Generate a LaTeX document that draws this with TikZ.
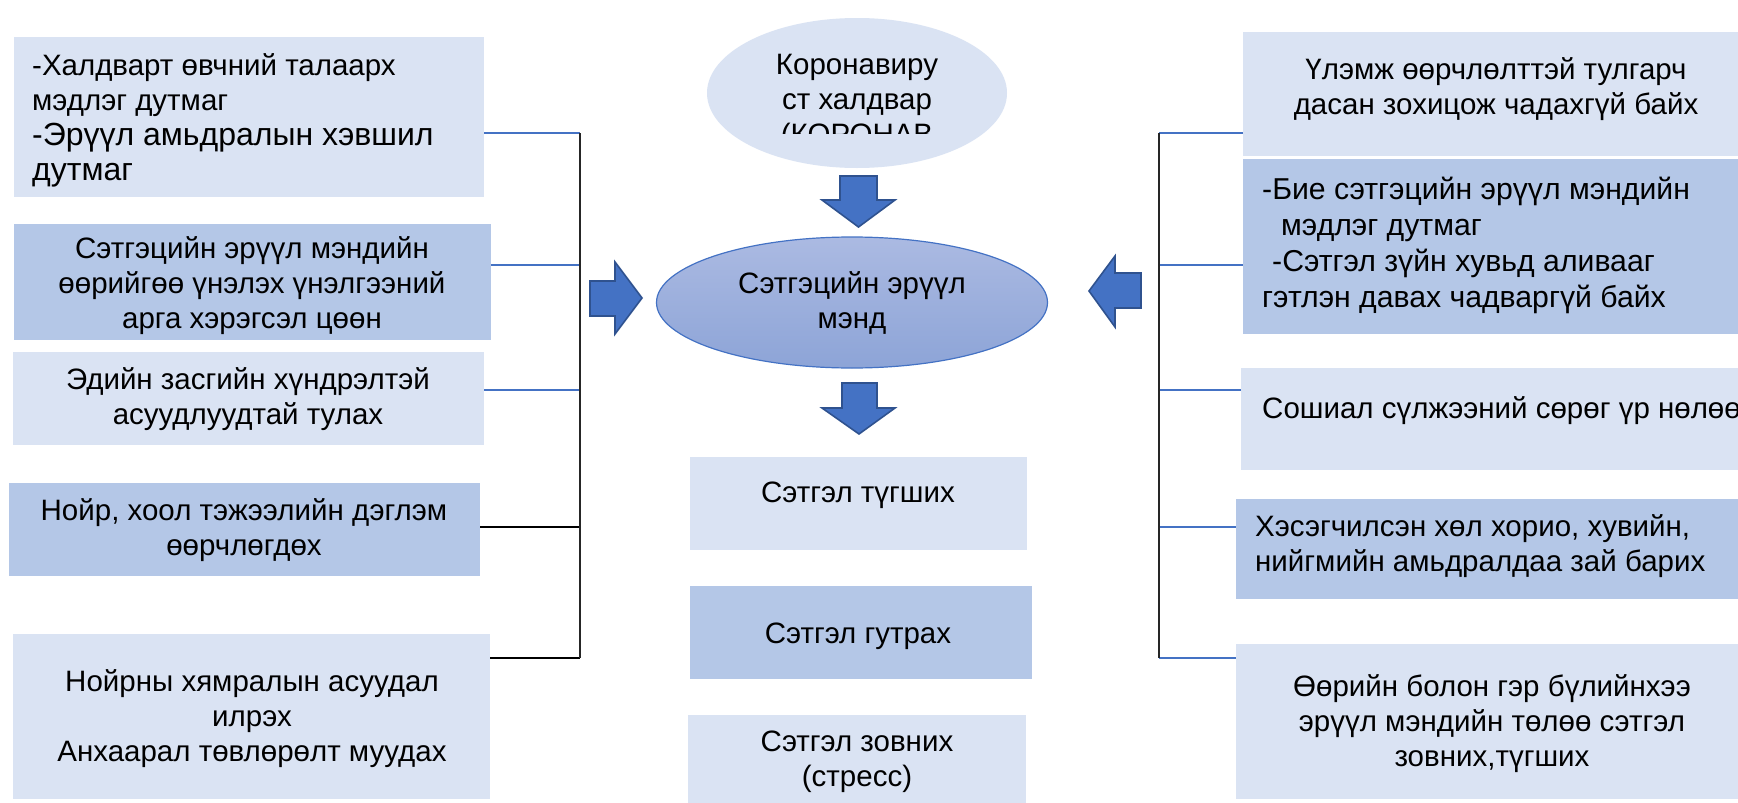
\documentclass[tikz,border=0pt]{standalone}
\usepackage{fontspec}
\setmainfont{Liberation Sans}
\usetikzlibrary{shapes.geometric}
\definecolor{boxlight}{RGB}{218,227,243}
\definecolor{boxdark}{RGB}{180,199,231}
\definecolor{accent}{RGB}{68,114,196}
\definecolor{accentdark}{RGB}{47,82,143}
\definecolor{elltop}{RGB}{171,186,226}
\definecolor{ellbot}{RGB}{141,164,215}
\tikzset{
  lbox/.style={rectangle, fill=boxlight, draw=none, inner sep=0pt},
  dbox/.style={rectangle, fill=boxdark, draw=none, inner sep=0pt},
  txt/.style={inner sep=0pt, font=\fontsize{29.5}{35}\selectfont, text=black},
  bline/.style={draw=accent, line width=1.1pt},
  kline/.style={draw=black, line width=1.5pt},
  busline/.style={draw=black!85, line width=1.6pt},
  barrow/.style={fill=accent, draw=accentdark, line width=1.6pt, line join=miter}
}
\begin{document}
\begin{tikzpicture}[x=1pt,y=-1pt]
\clip (0,0) rectangle (1738,803);
\fill[white] (0,0) rectangle (1738,803);

% left boxes
\node[lbox, minimum width=470, minimum height=160] (L1) at (249,117) {};
\node[dbox, minimum width=477, minimum height=116] (L2) at (252.5,282) {};
\node[lbox, minimum width=471, minimum height=93] (L3) at (248.5,398.5) {};
\node[dbox, minimum width=471, minimum height=93] (L4) at (244.5,529.5) {};
\node[lbox, minimum width=477, minimum height=165] (L5) at (251.5,716.5) {};

\node[txt, align=left, anchor=west] (L1t) at (32,120)
  {{\fontsize{29.5}{34}\selectfont -Халдварт өвчний талаарх}\\
   {\fontsize{29.5}{35}\selectfont мэдлэг дутмаг}\\
   {\fontsize{32}{36}\selectfont -Эрүүл амьдралын хэвшил}\\
   {\fontsize{32}{36}\selectfont дутмаг}};
\node[txt, align=center] (L2t) at (252,286)
  {Сэтгэцийн эрүүл мэндийн\\ өөрийгөө үнэлэх үнэлгээний\\ арга хэрэгсэл цөөн};
\node[txt, align=center] (L3t) at (248,399)
  {Эдийн засгийн хүндрэлтэй\\ асуудлуудтай тулах};
\node[txt, align=center] (L4t) at (244,530)
  {Нойр, хоол тэжээлийн дэглэм\\ өөрчлөгдөх};
\node[txt, align=center] (L5t) at (252,719)
  {Нойрны хямралын асуудал\\ илрэх\\ Анхаарал төвлөрөлт муудах};

% centre column
\node[ellipse, fill=boxlight, draw=none, minimum width=300, minimum height=150, inner sep=0pt] (Top) at (857,93) {};
\begin{scope}
  \clip (700,0) rectangle (1010,133);
  \node[txt, align=center] (Topt) at (857,102) {Коронавиру\\ ст халдвар\\ (КОРОНАВ};
\end{scope}

\node[ellipse, top color=elltop, bottom color=ellbot, draw=accent, line width=1.2pt,
      minimum width=391, minimum height=131, inner sep=0pt, txt, align=center] (Mid) at (852,302.5)
  {Сэтгэцийн эрүүл\\ мэнд};

\node[lbox, minimum width=337, minimum height=93] (C1) at (858.5,503.5) {};
\node[dbox, minimum width=342, minimum height=93] (C2) at (861,632.5) {};
\node[lbox, minimum width=338, minimum height=100] (C3) at (857,765) {};
\node[txt] (C1t) at (858,495) {Сэтгэл түгших};
\node[txt] (C2t) at (858,636) {Сэтгэл гутрах};
\node[txt, align=center] (C3t) at (857,762) {Сэтгэл зовних\\ (стресс)};

% block arrows
\filldraw[barrow] (840,176) -- (877,176) -- (877,200) -- (895,200) -- (858.5,227) -- (822,200) -- (840,200) -- cycle;
\filldraw[barrow] (842,383) -- (877,383) -- (877,408) -- (895,408) -- (859,434) -- (822,408) -- (842,408) -- cycle;
\filldraw[barrow] (590,281) -- (615,281) -- (615,262) -- (642,298) -- (615,334) -- (615,316) -- (590,316) -- cycle;
\filldraw[barrow] (1141,273) -- (1115,273) -- (1115,256) -- (1089,291) -- (1115,327) -- (1115,308) -- (1141,308) -- cycle;

% right boxes
\node[lbox, minimum width=517, minimum height=124] (R1) at (1501.5,94) {};
\node[dbox, minimum width=517, minimum height=175] (R2) at (1501.5,246.5) {};
\node[lbox, minimum width=519, minimum height=102] (R3) at (1500.5,419) {};
\node[dbox, minimum width=524, minimum height=100] (R4) at (1498,549) {};
\node[lbox, minimum width=524, minimum height=155] (R5) at (1498,721.5) {};

\node[txt, align=center] (R1t) at (1496,89)
  {Үлэмж өөрчлөлттэй тулгарч\\ дасан зохицож чадахгүй байх};
\node[txt, align=left, anchor=west, font=\fontsize{30.2}{36}\selectfont] (R2t) at (1262,245)
  {-Бие сэтгэцийн эрүүл мэндийн\\
   \hspace*{19pt}мэдлэг дутмаг\\
   \hspace*{10pt}-Сэтгэл зүйн хувьд аливааг\\
   гэтлэн давах чадваргүй байх};
\node[txt, anchor=west] (R3t) at (1262,411) {Сошиал сүлжээний сөрөг үр нөлөө};
\node[txt, align=left, anchor=west] (R4t) at (1255,546)
  {Хэсэгчилсэн хөл хорио, хувийн,\\ нийгмийн амьдралдаа зай барих};
\node[txt, align=center] (R5t) at (1492,724)
  {Өөрийн болон гэр бүлийнхээ\\ эрүүл мэндийн төлөө сэтгэл\\ зовних,түгших};

% left bus
\coordinate (lb1) at (580,133);
\coordinate (lb2) at (580,265);
\coordinate (lb3) at (580,390);
\coordinate (lb4) at (580,527);
\coordinate (lb5) at (580,658);
\draw[bline] (lb1 -| L1.east) -- (lb1);
\draw[bline] (lb2 -| L2.east) -- (lb2);
\draw[bline] (lb3 -| L3.east) -- (lb3);
\draw[kline] (lb4 -| L4.east) -- (lb4);
\draw[kline] (lb5 -| L5.east) -- (lb5);
\draw[busline] (lb1) -- (lb5);

% right bus
\coordinate (rb1) at (1159,133);
\coordinate (rb2) at (1159,265);
\coordinate (rb3) at (1159,390);
\coordinate (rb4) at (1159,527);
\coordinate (rb5) at (1159,658);
\draw[bline] (rb1) -- (rb1 -| R1.west);
\draw[bline] (rb2) -- (rb2 -| R2.west);
\draw[bline] (rb3) -- (rb3 -| R3.west);
\draw[bline] (rb4) -- (rb4 -| R4.west);
\draw[bline] (rb5) -- (rb5 -| R5.west);
\draw[busline] (rb1) -- (rb5);
\end{tikzpicture}
\end{document}
